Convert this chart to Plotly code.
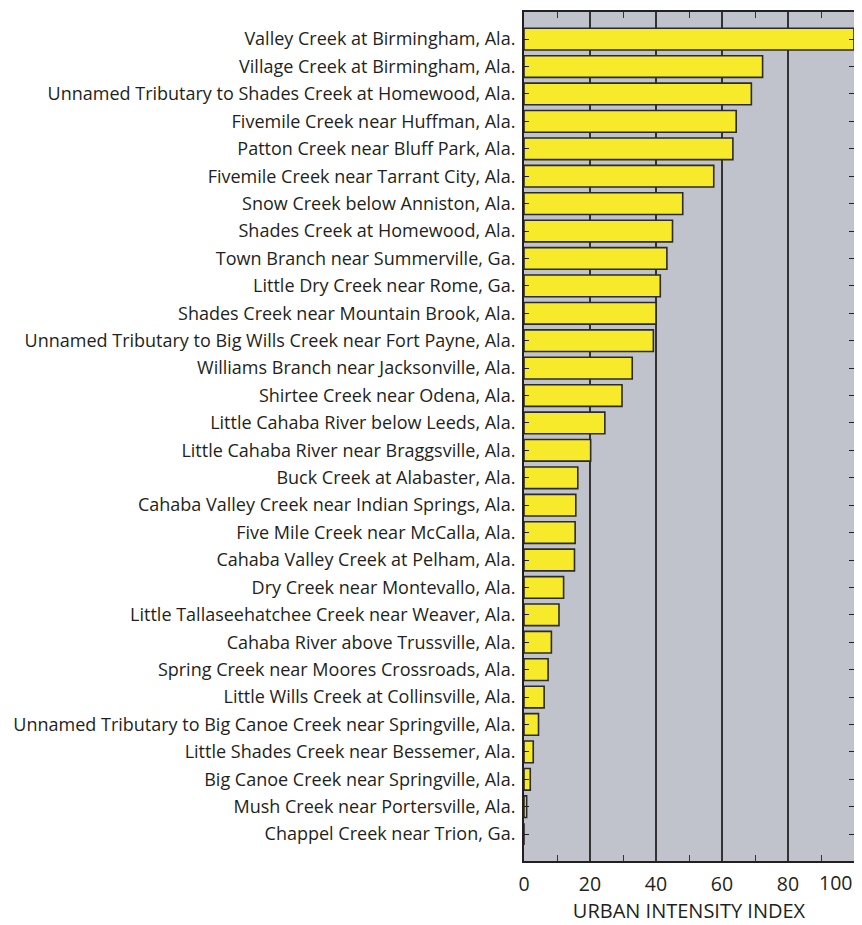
import plotly.graph_objects as go

sites = [
    "Valley Creek at Birmingham, Ala.",
    "Village Creek at Birmingham, Ala.",
    "Unnamed Tributary to Shades Creek at Homewood, Ala.",
    "Fivemile Creek near Huffman, Ala.",
    "Patton Creek near Bluff Park, Ala.",
    "Fivemile Creek near Tarrant City, Ala.",
    "Snow Creek below Anniston, Ala.",
    "Shades Creek at Homewood, Ala.",
    "Town Branch near Summerville, Ga.",
    "Little Dry Creek near Rome, Ga.",
    "Shades Creek near Mountain Brook, Ala.",
    "Unnamed Tributary to Big Wills Creek near Fort Payne, Ala.",
    "Williams Branch near Jacksonville, Ala.",
    "Shirtee Creek near Odena, Ala.",
    "Little Cahaba River below Leeds, Ala.",
    "Little Cahaba River near Braggsville, Ala.",
    "Buck Creek at Alabaster, Ala.",
    "Cahaba Valley Creek near Indian Springs, Ala.",
    "Five Mile Creek near McCalla, Ala.",
    "Cahaba Valley Creek at Pelham, Ala.",
    "Dry Creek near Montevallo, Ala.",
    "Little Tallaseehatchee Creek near Weaver, Ala.",
    "Cahaba River above Trussville, Ala.",
    "Spring Creek near Moores Crossroads, Ala.",
    "Little Wills Creek at Collinsville, Ala.",
    "Unnamed Tributary to Big Canoe Creek near Springville, Ala.",
    "Little Shades Creek near Bessemer, Ala.",
    "Big Canoe Creek near Springville, Ala.",
    "Mush Creek near Portersville, Ala.",
    "Chappel Creek near Trion, Ga.",
]
uii = [100, 72.3, 68.9, 64.3, 63.3, 57.5, 48.1, 45.0, 43.3, 41.3,
       40.0, 39.2, 32.8, 29.7, 24.5, 20.2, 16.3, 15.7, 15.5, 15.3,
       12.0, 10.6, 8.3, 7.3, 6.1, 4.4, 2.8, 1.9, 0.8, 0.0]
x_ticks = [0, 20, 40, 60, 80, 100]
x_ticktext = ["0", "20", "40", "60", "80", ""]
x_last_label = "100"
x_title = "URBAN INTENSITY INDEX"

fig = go.Figure(go.Bar(
    y=sites, x=uii, orientation="h", width=0.79,
    marker=dict(color="#F7EA2B", line=dict(color="#2B2B2B", width=1.6)),
))

n = len(sites)
ink = "#231F20"
fig.update_layout(
    width=847, height=916,
    margin=dict(l=516, r=1, t=4, b=63),
    plot_bgcolor="#C0C3CB", paper_bgcolor="white",
    font=dict(family="Open Sans", color=ink),
    showlegend=False,
)
fig.update_yaxes(
    type="category", range=[n - 1 + 0.98, -0.99], automargin=False,
    tickfont=dict(size=18), ticks="inside", ticklen=5, tickcolor=ink,
    mirror="allticks", showline=True, linecolor=ink, linewidth=2,
    showgrid=False, ticklabelstandoff=3,
)
fig.update_xaxes(
    range=[0, 100], tickvals=x_ticks, ticktext=x_ticktext, automargin=False,
    ticks="inside", ticklen=0, ticklabelstandoff=5,
    tickfont=dict(size=19.5), mirror="allticks", showline=True,
    linecolor=ink, linewidth=2,
    showgrid=True, gridcolor="#333333", gridwidth=1.6,
    minor=dict(tickvals=[10, 30, 50, 70, 90], ticks="inside", ticklen=6,
               tickcolor="#333333", showgrid=False),
    title=dict(text=x_title, font=dict(size=20), standoff=22),
    zeroline=False,
)
fig.add_annotation(
    x=x_ticks[-1], y=0, xref="x", yref="paper", yshift=-6,
    text=x_last_label, showarrow=False, xanchor="right", yanchor="top",
    font=dict(size=19.5, color=ink),
)

fig.write_html("out.html")
